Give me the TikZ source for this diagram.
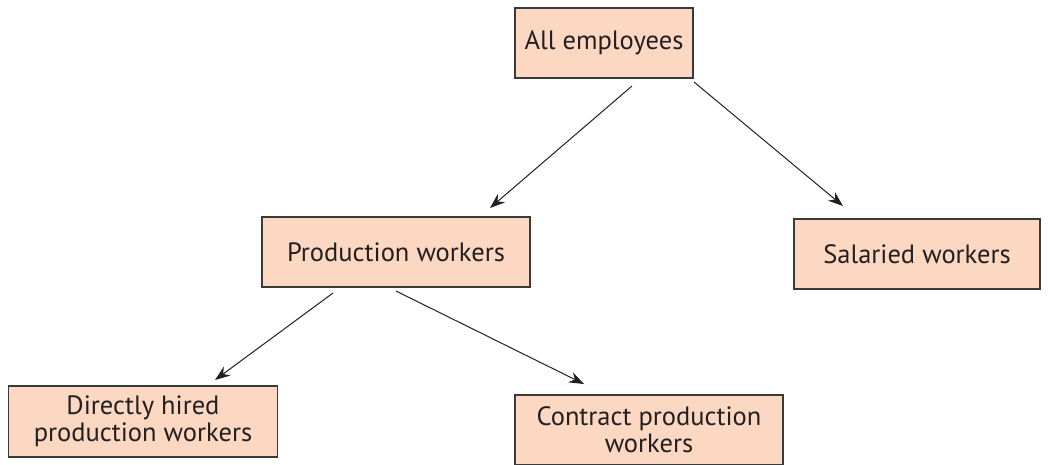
\documentclass[tikz,border=0pt]{standalone}
\usepackage{fontspec}
\setmainfont{PT Sans}
\usetikzlibrary{arrows.meta}
\definecolor{boxfill}{HTML}{FCD8C3}
\definecolor{boxline}{HTML}{3A3A3A}
\definecolor{txt}{HTML}{231F20}
\tikzset{
  box/.style={draw=boxline, line width=1.1pt, fill=boxfill, text=txt, align=center,
    font=\fontsize{26.5}{27}\selectfont, inner sep=0pt},
  arr/.style={draw=txt, line width=1pt, -{Stealth[length=15pt,width=11pt]}}
}
\begin{document}
\begin{tikzpicture}[x=1pt,y=-1pt]
\useasboundingbox (0,0) rectangle (1050,464);
\node[box, minimum width=178pt, minimum height=70pt] (all) at (604,43) {All employees};
\node[box, minimum width=268pt, minimum height=70pt] (prod) at (396,252) {Production workers};
\node[box, minimum width=246pt, minimum height=70pt] (sal) at (917,254) {Salaried workers};
\node[box, minimum width=269pt, minimum height=71pt] (dir) at (143,421.5) {Directly hired\\production workers};
\node[box, minimum width=268pt, minimum height=70pt] (con) at (649,430) {Contract production\\workers};
\coordinate (a1) at (632,86);
\coordinate (a2) at (694,82);
\coordinate (p1) at (333,293);
\coordinate (p2) at (396,291);
\draw[arr] (a1) -- (490,208) coordinate (prodtip);
\draw[arr] (a2) -- (843,206) coordinate (saltip);
\draw[arr] (p1) -- (215,380) coordinate (dirtip);
\draw[arr] (p2) -- (584,384) coordinate (contip);
\end{tikzpicture}
\end{document}
